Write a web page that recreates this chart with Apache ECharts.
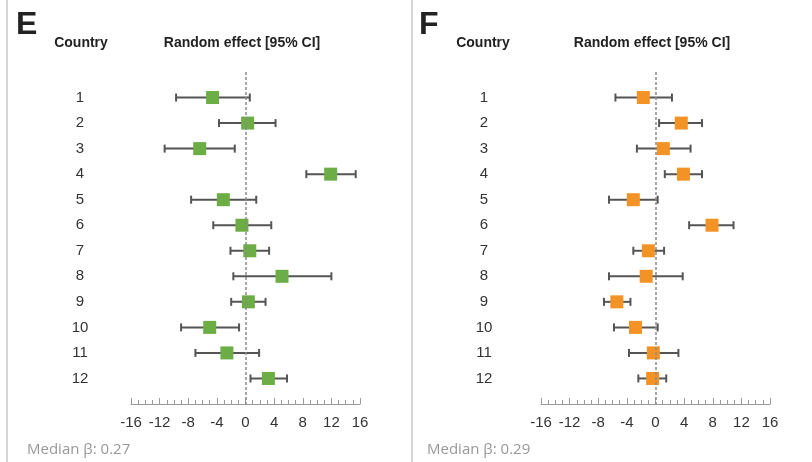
<!DOCTYPE html>
<html>
<head>
<meta charset="utf-8">
<script src="https://cdn.jsdelivr.net/npm/echarts@6/dist/echarts.min.js"></script>
<style>
  html, body { margin: 0; padding: 0; background: #fff; }
  #chart { width: 812px; height: 462px; }
</style>
</head>
<body>
<div id="chart"></div>
<script>
  // rows (countries) and random effects with 95% CI
  var countries = [1, 2, 3, 4, 5, 6, 7, 8, 9, 10, 11, 12];
  var eEst  = [-4.6, 0.3, -6.4, 11.9, -3.1, -0.5, 0.6, 5.1, 0.4, -5.0, -2.6, 3.2];
  var eLow  = [-9.7, -3.7, -11.3, 8.5, -7.6, -4.5, -2.1, -1.7, -2.0, -9.0, -7.0, 0.7];
  var eHigh = [0.6, 4.2, -1.5, 15.4, 1.5, 3.6, 3.3, 12.0, 2.8, -0.9, 1.9, 5.8];
  var fEst  = [-1.7, 3.6, 1.1, 3.9, -3.1, 7.9, -1.0, -1.3, -5.4, -2.8, -0.3, -0.4];
  var fLow  = [-5.6, 0.5, -2.6, 1.3, -6.5, 4.7, -3.1, -6.5, -7.2, -5.8, -3.7, -2.4];
  var fHigh = [2.3, 6.5, 4.9, 6.5, 0.3, 10.9, 1.2, 3.8, -3.5, 0.3, 3.2, 1.5];
  var xTicks = [-16, -12, -8, -4, 0, 4, 8, 12, 16];
  var medians = ['0.27', '0.29'];

  var green = '#6cad45';
  var orange = '#f39325';
  var barColor = '#555';
  var font = '"Liberation Sans", Arial, sans-serif';

  var dom = echarts.init(document.getElementById('chart'));

  function xAxisCfg(idx) {
    return {
      gridIndex: idx, type: 'value', min: -16, max: 16, interval: 4, position: 'bottom',
      axisLine: { onZero: false, lineStyle: { color: '#9a9a9a', width: 1 } },
      axisTick: { inside: true, length: 6, lineStyle: { color: '#9a9a9a' } },
      minorTick: { show: true, splitNumber: 4, length: 4, lineStyle: { color: '#9a9a9a' } },
      splitLine: { show: false },
      axisLabel: {
        margin: 11, fontSize: 15, color: '#333', fontFamily: font,
        formatter: function (v) { return xTicks.indexOf(v) >= 0 ? String(v) : ''; }
      }
    };
  }

  function yAxisCfg(idx, margin) {
    return {
      gridIndex: idx, type: 'value', min: 0, max: 13, interval: 1, inverse: true,
      axisLine: { show: false, onZero: false }, axisTick: { show: false }, splitLine: { show: false },
      axisLabel: {
        margin: margin, align: 'center', fontSize: 15, color: '#333', fontFamily: font,
        formatter: function (v) { return countries.indexOf(v) >= 0 ? String(v) : ''; }
      }
    };
  }

  function ciSeries(idx, low, high) {
    return {
      type: 'custom', xAxisIndex: idx, yAxisIndex: idx, z: 2,
      data: countries.map(function (c, i) { return [low[i], high[i], c]; }),
      renderItem: function (params, api) {
        var a = api.coord([api.value(0), api.value(2)]);
        var b = api.coord([api.value(1), api.value(2)]);
        var cap = 4;
        var style = { stroke: barColor, lineWidth: 2 };
        return {
          type: 'group',
          children: [
            { type: 'line', shape: { x1: a[0], y1: a[1], x2: b[0], y2: b[1] }, style: style },
            { type: 'line', shape: { x1: a[0], y1: a[1] - cap, x2: a[0], y2: a[1] + cap }, style: style },
            { type: 'line', shape: { x1: b[0], y1: b[1] - cap, x2: b[0], y2: b[1] + cap }, style: style }
          ]
        };
      }
    };
  }

  function pointSeries(idx, est, color) {
    return {
      type: 'scatter', xAxisIndex: idx, yAxisIndex: idx, z: 3,
      symbol: 'rect', symbolSize: 13,
      itemStyle: { color: color, opacity: 1 },
      data: countries.map(function (c, i) { return [est[i], c]; }),
      markLine: {
        silent: true, symbol: 'none', label: { show: false },
        lineStyle: { color: '#8a8a8a', type: [3, 2], width: 1.5 },
        data: [{ xAxis: 0 }]
      }
    };
  }

  function txt(x, y, s, size, weight, color, align) {
    return {
      type: 'text', x: x, y: y,
      style: { text: s, fontSize: size, fontWeight: weight, fill: color, fontFamily: font, textAlign: align || 'left', textVerticalAlign: 'middle' }
    };
  }

  var option = {
    animation: false,
    grid: [
      { left: 131, width: 229, top: 72, height: 332 },
      { left: 541, width: 229, top: 72, height: 332 }
    ],
    xAxis: [xAxisCfg(0), xAxisCfg(1)],
    yAxis: [yAxisCfg(0, 51), yAxisCfg(1, 57)],
    series: [
      ciSeries(0, eLow, eHigh), pointSeries(0, eEst, green),
      ciSeries(1, fLow, fHigh), pointSeries(1, fEst, orange)
    ],
    graphic: [
      { type: 'line', shape: { x1: 7, y1: 0, x2: 7, y2: 462 }, style: { stroke: '#c8c8c8', lineWidth: 1.5 } },
      { type: 'line', shape: { x1: 412, y1: 0, x2: 412, y2: 462 }, style: { stroke: '#c8c8c8', lineWidth: 1.5 } },
      txt(16, 25, 'E', 32, 'bold', '#222'),
      txt(81, 43, 'Country', 14, 'bold', '#222', 'center'),
      txt(242, 43, 'Random effect [95% CI]', 14, 'bold', '#222', 'center'),
      txt(419, 25, 'F', 32, 'bold', '#222'),
      txt(483, 43, 'Country', 14, 'bold', '#222', 'center'),
      txt(652, 43, 'Random effect [95% CI]', 14, 'bold', '#222', 'center'),
      {
        type: 'text', x: 27, y: 450,
        style: { text: 'Median \u03b2: ' + medians[0], fontSize: 15, fill: '#999', fontFamily: '"Open Sans", sans-serif', textVerticalAlign: 'middle' }
      },
      {
        type: 'text', x: 427, y: 450,
        style: { text: 'Median \u03b2: ' + medians[1], fontSize: 15, fill: '#999', fontFamily: '"Open Sans", sans-serif', textVerticalAlign: 'middle' }
      }
    ]
  };
  dom.setOption(option);
  window.addEventListener('resize', function () { dom.resize(); });
</script>
</body>
</html>
